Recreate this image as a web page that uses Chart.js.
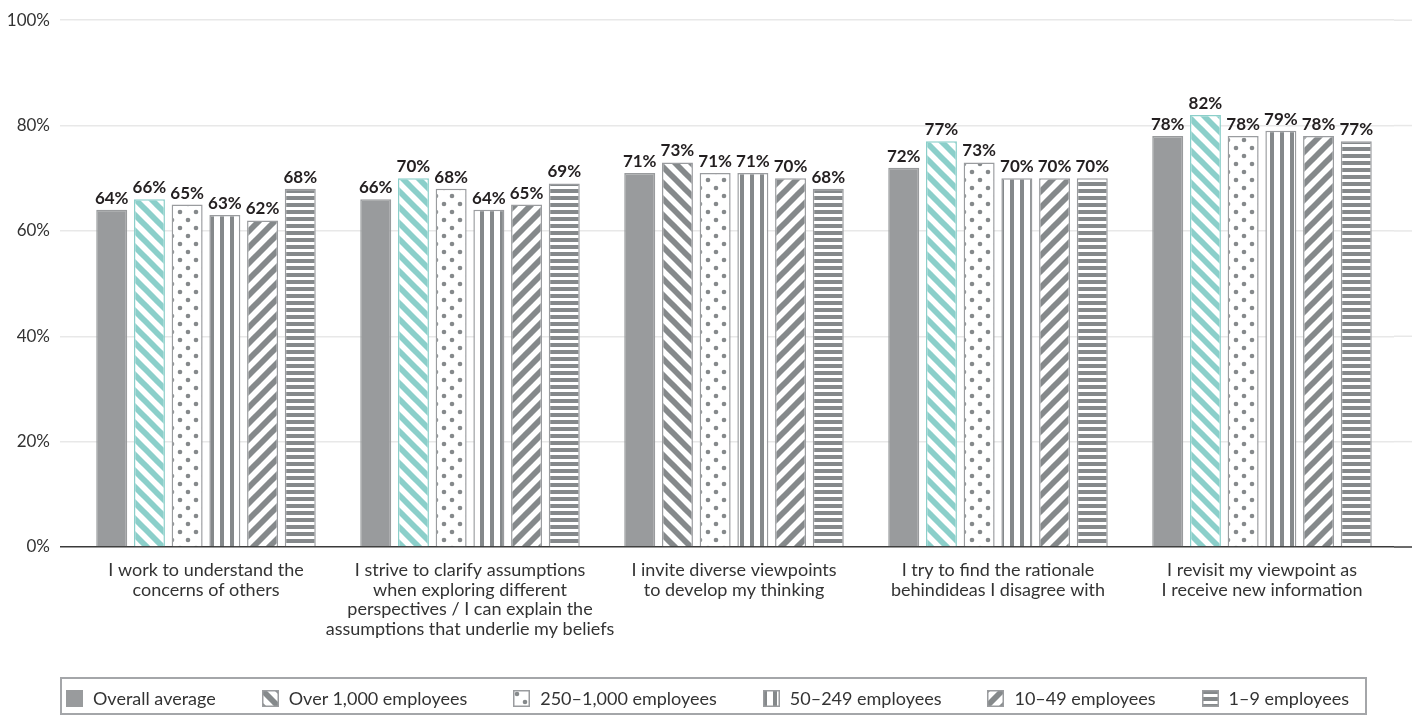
<!DOCTYPE html>
<html>
<head>
<meta charset="utf-8">
<script src="https://cdn.jsdelivr.net/npm/chart.js@4.4.1/dist/chart.umd.min.js"></script>
<style>
  html, body { margin: 0; padding: 0; background: #fff; }
  #wrap { position: relative; width: 1428px; height: 720px; overflow: hidden; }
  #chart { position: absolute; left: 0; top: 0; }
  #legend {
    position: absolute; left: 60px; top: 677px; width: 1283px; height: 30px;
    padding: 4px 16px 0 4px;
    border: 2px solid #a4a6a9; display: flex; justify-content: space-between; align-items: center;
    font-family: Lato, sans-serif; font-size: 18px; color: #333;
  }
  .item { display: flex; align-items: center; gap: 10px; white-space: nowrap; }
  .item canvas { display: block; }
</style>
</head>
<body>
<div id="wrap">
  <canvas id="chart" width="1428" height="720"></canvas>
  <div id="legend"></div>
</div>
<script>
// ---- data ----
const categories = [
  ["I work to understand the", "concerns of others"],
  ["I strive to clarify assumptions", "when exploring different", "perspectives / I can explain the", "assumptions that underlie my beliefs"],
  ["I invite diverse viewpoints", "to develop my thinking"],
  ["I try to find the rationale", "behindideas I disagree with"],
  ["I revisit my viewpoint as", "I receive new information"]
];
const seriesNames = ["Overall average", "Over 1,000 employees", "250\u20131,000 employees", "50\u2013249 employees", "10\u201349 employees", "1\u20139 employees"];
const overallAverage = [64, 66, 71, 72, 78];
const over1000 = [66, 70, 73, 77, 82];
const from250to1000 = [65, 68, 71, 73, 78];
const from50to249 = [63, 64, 71, 70, 79];
const from10to49 = [62, 65, 70, 70, 78];
const from1to9 = [68, 69, 68, 70, 77];
const highlightOver1000 = [true, true, false, true, true];
const yTicks = [0, 20, 40, 60, 80, 100];

// ---- styles ----
const GRAY = '#85898b';
const SOLID = '#999b9d';
const TEAL = '#8bcfca';
const EDGE = '#9a9c9f';

function patternCanvas(type, color) {
  const c = document.createElement('canvas');
  const x = c.getContext('2d');
  if (type === 'diagBack' || type === 'diagFwd') {
    const s = 16; c.width = s; c.height = s;
    x.fillStyle = '#fff'; x.fillRect(0, 0, s, s);
    x.strokeStyle = color; x.lineWidth = 5.8;
    for (let k = -1; k <= 1; k++) {
      x.beginPath();
      if (type === 'diagBack') { x.moveTo(-s, -s + k * s); x.lineTo(2 * s, 2 * s + k * s); }
      else { x.moveTo(-s, 2 * s + k * s); x.lineTo(2 * s, -s + k * s); }
      x.stroke();
    }
  } else if (type === 'dots') {
    const s = 16; c.width = s; c.height = s;
    x.fillStyle = '#fff'; x.fillRect(0, 0, s, s);
    x.fillStyle = color;
    [[4, 4], [12, 12]].forEach(p => { x.beginPath(); x.arc(p[0], p[1], 2.3, 0, Math.PI * 2); x.fill(); });
  } else if (type === 'vert') {
    c.width = 10; c.height = 4;
    x.fillStyle = '#fff'; x.fillRect(0, 0, 10, 4);
    x.fillStyle = color; x.fillRect(0, 0, 4, 4);
  } else if (type === 'horiz') {
    c.width = 4; c.height = 7;
    x.fillStyle = '#fff'; x.fillRect(0, 0, 4, 7);
    x.fillStyle = color; x.fillRect(0, 0, 4, 4);
  }
  return c;
}
const mainCtx = document.getElementById('chart').getContext('2d');
const makePattern = (type, color) => mainCtx.createPattern(patternCanvas(type, color), 'repeat');

const pBackGray = makePattern('diagBack', GRAY);
const pBackTeal = makePattern('diagBack', TEAL);
const pDots = makePattern('dots', GRAY);
const pVert = makePattern('vert', GRAY);
const pFwd = makePattern('diagFwd', GRAY);
const pHoriz = makePattern('horiz', GRAY);

const seriesValues = [overallAverage, over1000, from250to1000, from50to249, from10to49, from1to9];
const fills = [
  SOLID,
  highlightOver1000.map(h => h ? pBackTeal : pBackGray),
  pDots, pVert, pFwd, pHoriz
];
const borders = [
  SOLID,
  highlightOver1000.map(h => h ? TEAL : EDGE),
  EDGE, EDGE, EDGE, EDGE
];

const datasets = seriesValues.map((vals, i) => ({
  label: seriesNames[i],
  data: vals,
  backgroundColor: fills[i],
  borderColor: borders[i],
  borderWidth: 1.5,
  categoryPercentage: 0.857,
  barPercentage: 0.822
}));

const GRID_RIGHT = 1412;

const extendGrid = {
  id: 'extendGrid',
  beforeDatasetsDraw(chart) {
    const {ctx, chartArea, scales: {y}} = chart;
    ctx.save();
    yTicks.forEach(v => {
      const py = y.getPixelForValue(v);
      ctx.beginPath();
      ctx.strokeStyle = v === 0 ? '#3a3a3a' : '#e8e8e8';
      ctx.lineWidth = 1.5;
      ctx.moveTo(chartArea.right, py);
      ctx.lineTo(GRID_RIGHT, py);
      ctx.stroke();
    });
    ctx.restore();
  }
};

const valueLabels = {
  id: 'valueLabels',
  afterDatasetsDraw(chart) {
    const {ctx} = chart;
    ctx.save();
    ctx.font = 'bold 17px Lato, sans-serif';
    ctx.fillStyle = '#231f20';
    ctx.textAlign = 'center';
    ctx.textBaseline = 'bottom';
    chart.data.datasets.forEach((ds, di) => {
      const meta = chart.getDatasetMeta(di);
      meta.data.forEach((bar, i) => {
        ctx.fillText(ds.data[i] + '%', bar.x, bar.y - 3);
      });
    });
    ctx.restore();
  }
};

new Chart(document.getElementById('chart'), {
  type: 'bar',
  data: { labels: categories, datasets },
  options: {
    responsive: false,
    animation: false,
    layout: { padding: { left: 0, right: 34, top: 19, bottom: 0 } },
    plugins: { legend: { display: false }, tooltip: { enabled: false } },
    scales: {
      x: {
        grid: { display: false, drawTicks: false },
        border: { display: false },
        ticks: {
          color: '#333',
          font: { family: 'Lato, sans-serif', size: 18, lineHeight: 1.1 },
          padding: 13,
          maxRotation: 0,
          autoSkip: false
        },
        afterFit(scale) { scale.height = 173; }
      },
      y: {
        min: 0, max: 100,
        afterBuildTicks(scale) { scale.ticks = yTicks.map(v => ({ value: v })); },
        afterFit(scale) { scale.width = 74; },
        grid: {
          color: ctx => ctx.tick && ctx.tick.value === 0 ? '#3a3a3a' : '#e8e8e8',
          lineWidth: 1.5,
          tickLength: 14,
          drawTicks: true
        },
        border: { display: false },
        ticks: {
          color: '#333',
          font: { family: 'Lato, sans-serif', size: 17 },
          padding: 10,
          callback: v => v + '%'
        }
      }
    }
  },
  plugins: [extendGrid, valueLabels]
});

// ---- HTML legend ----
const legendTypes = [null, 'diagBack', 'dots', 'vert', 'diagFwd', 'horiz'];
const legendEl = document.getElementById('legend');
seriesNames.forEach((name, i) => {
  const item = document.createElement('div');
  item.className = 'item';
  const sw = document.createElement('canvas');
  sw.width = 17; sw.height = 17;
  const sx = sw.getContext('2d');
  if (i === 0) {
    sx.fillStyle = SOLID; sx.fillRect(0, 0, 17, 17);
  } else {
    sx.fillStyle = sx.createPattern(patternCanvas(legendTypes[i], GRAY), 'repeat');
    sx.fillRect(0, 0, 17, 17);
    sx.strokeStyle = EDGE; sx.lineWidth = 1.5; sx.strokeRect(0.75, 0.75, 15.5, 15.5);
  }
  item.appendChild(sw);
  const t = document.createElement('span');
  t.textContent = name;
  item.appendChild(t);
  legendEl.appendChild(item);
});
</script>
</body>
</html>
